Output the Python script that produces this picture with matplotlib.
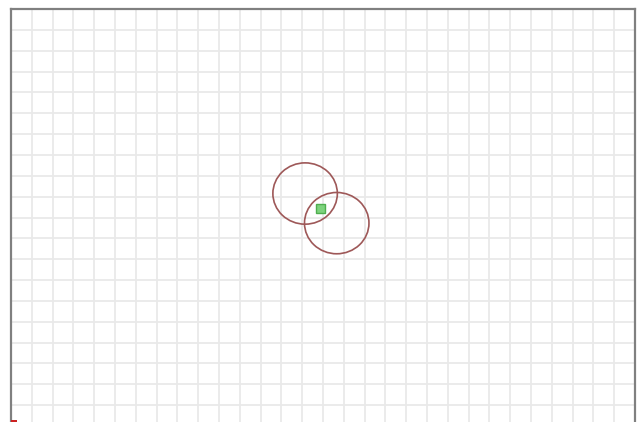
import matplotlib
matplotlib.use('Agg')
import matplotlib.pyplot as plt
from matplotlib.patches import Rectangle, Ellipse

# world grid (units)
x_range = [0, 30]
y_range = [0, 20]

# robot (green) and origin marker (red)
robot_xy = (14.9, 10.45)
robot_size = 0.44
origin_xy = (0.0, 0.0)
origin_size = 0.3

# two sensor circles
circle_x = [14.14, 15.66]
circle_y = [11.15, 9.73]
circle_w = 3.1
circle_h = 2.94

fig = plt.figure(figsize=(6.42, 4.22), dpi=100)
ax = fig.add_axes([11/642, (422-426)/422, 624/642, 417/422])
ax.set_xlim(*x_range)
ax.set_ylim(*y_range)

ax.set_xticks(range(x_range[0], x_range[1]+1))
ax.set_yticks(range(y_range[0], y_range[1]+1))
ax.grid(True, color='#e9e9e9', linewidth=1.3)
ax.set_axisbelow(True)
ax.tick_params(length=0, labelleft=False, labelbottom=False)
for s in ax.spines.values():
    s.set_color('#808080')
    s.set_linewidth(1.6)

ax.add_patch(Rectangle(origin_xy, origin_size, origin_size, facecolor='#cc2222', edgecolor='none', zorder=3, clip_on=False))
ax.add_patch(Rectangle((robot_xy[0]-robot_size/2, robot_xy[1]-robot_size/2), robot_size, robot_size,
                       facecolor='#7dd37d', edgecolor='#4fae4f', linewidth=1, zorder=3))
for cx, cy in zip(circle_x, circle_y):
    ax.add_patch(Ellipse((cx, cy), circle_w, circle_h, facecolor='none', edgecolor='#9e5858', linewidth=1.2, zorder=4))

fig.savefig('out.png', dpi=100)
